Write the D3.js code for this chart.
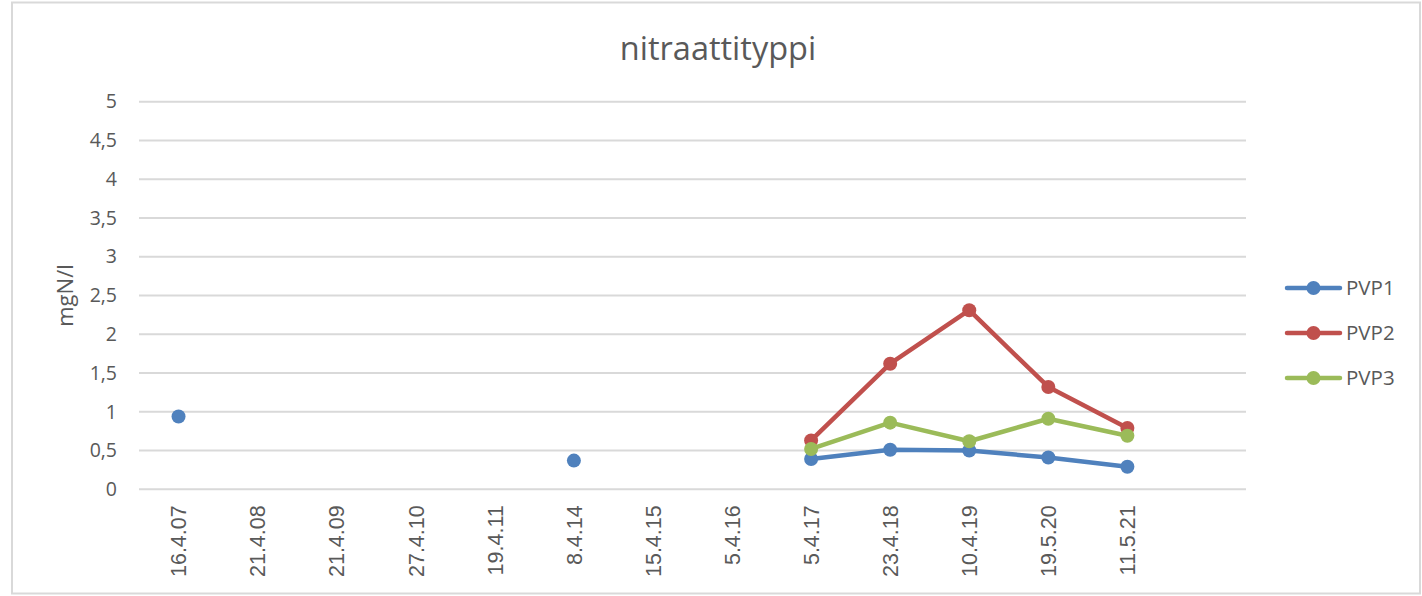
<!DOCTYPE html>
<html>
<head>
<meta charset="utf-8">
<script src="https://cdn.jsdelivr.net/npm/d3@7"></script>
<style>
  body { margin: 0; background: #fff; }
  svg { display: block; }
</style>
</head>
<body>
<svg id="chart"></svg>
<script>
// data
const dates = ['16.4.07', '21.4.08', '21.4.09', '27.4.10', '19.4.11', '8.4.14', '15.4.15',
               '5.4.16', '5.4.17', '23.4.18', '10.4.19', '19.5.20', '11.5.21', ''];
const pvp1 = [0.94, null, null, null, null, 0.37, null, null, 0.39, 0.51, 0.50, 0.41, 0.29];
const pvp2 = [null, null, null, null, null, null, null, null, 0.63, 1.62, 2.31, 1.32, 0.79];
const pvp3 = [null, null, null, null, null, null, null, null, 0.52, 0.86, 0.62, 0.91, 0.69];
const yTicks = [0, 0.5, 1, 1.5, 2, 2.5, 3, 3.5, 4, 4.5, 5];
const seriesNames = ['PVP1', 'PVP2', 'PVP3'];
const seriesColors = ['#4f81bd', '#c0504d', '#9bbb59'];

const width = 1422, height = 596;
const margin = {top: 101.7, right: 176, bottom: 106.7, left: 139};
const textColor = '#595959';
const gridColor = '#d9d9d9';

const svg = d3.select('#chart')
    .attr('width', width)
    .attr('height', height);

// outer frame
svg.append('rect')
    .attr('x', 12).attr('y', 2.5)
    .attr('width', 1408).attr('height', 591)
    .attr('fill', '#fff')
    .attr('stroke', gridColor)
    .attr('stroke-width', 2);

const xScale = d3.scaleBand()
    .domain(dates)
    .range([margin.left, width - margin.right])
    .padding(0);

const yScale = d3.scaleLinear()
    .domain([0, 5])
    .range([height - margin.bottom, margin.top]);

const cx = i => xScale(dates[i]) + xScale.bandwidth() / 2;

// gridlines
svg.append('g')
    .selectAll('line')
    .data(yTicks)
    .join('line')
    .attr('x1', margin.left)
    .attr('x2', width - margin.right)
    .attr('y1', d => yScale(d))
    .attr('y2', d => yScale(d))
    .attr('stroke', gridColor)
    .attr('stroke-width', 2);

// y axis labels
const yAxis = d3.axisLeft(yScale)
    .tickValues(yTicks)
    .tickSize(0)
    .tickPadding(22)
    .tickFormat(d => String(d).replace('.', ','));

svg.append('g')
    .attr('transform', `translate(${margin.left},0)`)
    .call(yAxis)
    .call(g => g.select('.domain').remove())
    .selectAll('text')
    .attr('fill', textColor)
    .attr('font-family', 'Open Sans')
    .attr('font-size', 19.5);

// x axis labels
const xAxis = d3.axisBottom(xScale)
    .tickSize(0)
    .tickFormat(d => d);

svg.append('g')
    .attr('transform', `translate(0,${height - margin.bottom})`)
    .call(xAxis)
    .call(g => g.select('.domain').remove())
    .selectAll('text')
    .attr('fill', textColor)
    .attr('font-family', 'Liberation Sans')
    .attr('font-size', 21.5)
    .attr('text-anchor', 'end')
    .attr('transform', 'rotate(-90)')
    .attr('x', -16)
    .attr('y', 0)
    .attr('dy', '0.36em');

// title
svg.append('text')
    .attr('x', 718)
    .attr('y', 60)
    .attr('text-anchor', 'middle')
    .attr('fill', textColor)
    .attr('font-family', 'Open Sans')
    .attr('font-size', 32.5)
    .text('nitraattityppi');

// y axis title
svg.append('text')
    .attr('transform', `translate(73,${(margin.top + height - margin.bottom) / 2}) rotate(-90)`)
    .attr('text-anchor', 'middle')
    .attr('fill', textColor)
    .attr('font-family', 'Open Sans')
    .attr('font-size', 22)
    .text('mgN/l');

// series
const allSeries = [pvp1, pvp2, pvp3];
const line = d3.line()
    .defined(d => d != null)
    .x((d, i) => cx(i))
    .y(d => yScale(d));

allSeries.forEach((vals, s) => {
    const g = svg.append('g');
    g.append('path')
        .datum(vals)
        .attr('d', line)
        .attr('fill', 'none')
        .attr('stroke', seriesColors[s])
        .attr('stroke-width', 4.5)
        .attr('stroke-linejoin', 'round')
        .attr('stroke-linecap', 'round');
    g.selectAll('circle')
        .data(vals.map((v, i) => ({v, i})).filter(d => d.v != null))
        .join('circle')
        .attr('cx', d => cx(d.i))
        .attr('cy', d => yScale(d.v))
        .attr('r', 7)
        .attr('fill', seriesColors[s]);
});

// legend
const legend = svg.append('g');
const legendY = d3.scalePoint().domain(seriesNames).range([288, 378]);
seriesNames.forEach((name, s) => {
    const y = legendY(name);
    legend.append('line')
        .attr('x1', 1287).attr('x2', 1340)
        .attr('y1', y).attr('y2', y)
        .attr('stroke', seriesColors[s])
        .attr('stroke-width', 4.5)
        .attr('stroke-linecap', 'round');
    legend.append('circle')
        .attr('cx', 1313.5).attr('cy', y)
        .attr('r', 7)
        .attr('fill', seriesColors[s]);
    legend.append('text')
        .attr('x', 1346)
        .attr('y', y)
        .attr('dy', '0.36em')
        .attr('fill', textColor)
        .attr('font-family', 'Open Sans')
        .attr('font-size', 20.5)
        .text(name);
});
</script>
</body>
</html>
